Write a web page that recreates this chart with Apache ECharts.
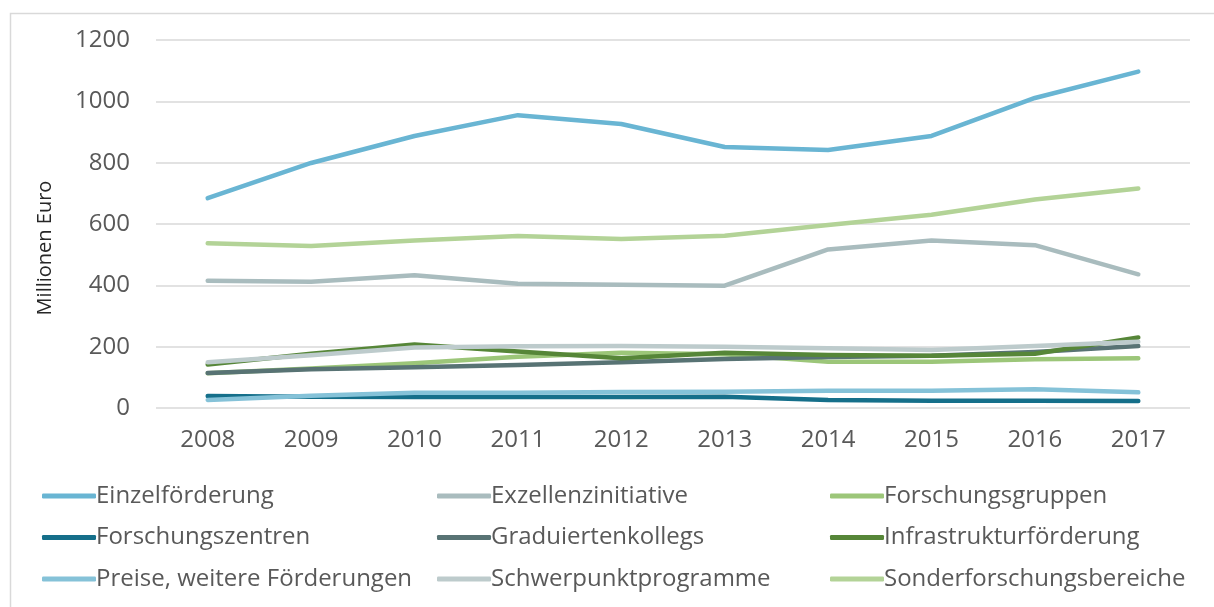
<!DOCTYPE html>
<html>
<head>
<meta charset="utf-8">
<script src="https://cdn.jsdelivr.net/npm/echarts@6/dist/echarts.min.js"></script>
<style>
  html, body { margin: 0; padding: 0; background: #fff; }
  #chart { width: 1214px; height: 607px; }
</style>
</head>
<body>
<div id="chart"></div>
<script>
// Jahre auf der x-Achse
const years = ["2008", "2009", "2010", "2011", "2012", "2013", "2014", "2015", "2016", "2017"];

// Werte in Millionen Euro
const einzelfoerderung      = [684, 799, 887, 955, 926, 851, 841, 887, 1011, 1097];
const exzellenzinitiative   = [415, 412, 433, 405, 402, 399, 517, 546, 531, 436];
const forschungsgruppen     = [113, 129, 146, 167, 180, 175, 151, 151, 159, 162];
const forschungszentren     = [39, 37, 36, 36, 36, 37, 26, 24, 24, 23];
const graduiertenkollegs    = [114, 126, 133, 140, 149, 160, 166, 170, 183, 202];
const infrastruktur         = [142, 177, 207, 184, 162, 180, 173, 170, 177, 230];
const preise                = [26, 40, 50, 50, 52, 53, 56, 56, 61, 51];
const schwerpunkt           = [149, 172, 197, 201, 202, 200, 195, 189, 202, 216];
const sonderforschung       = [537, 528, 546, 561, 551, 562, 597, 630, 680, 716];

const seriesDefs = [
  { name: "Einzelförderung", data: einzelfoerderung, color: "#69b5d3" },
  { name: "Exzellenzinitiative", data: exzellenzinitiative, color: "#a9bcbe" },
  { name: "Forschungsgruppen", data: forschungsgruppen, color: "#9cc679" },
  { name: "Forschungszentren", data: forschungszentren, color: "#156f8a" },
  { name: "Graduiertenkollegs", data: graduiertenkollegs, color: "#587374" },
  { name: "Infrastrukturförderung", data: infrastruktur, color: "#568638" },
  { name: "Preise, weitere Förderungen", data: preise, color: "#85c2d8" },
  { name: "Schwerpunktprogramme", data: schwerpunkt, color: "#bdcbcc" },
  { name: "Sonderforschungsbereiche", data: sonderforschung, color: "#b3d397" }
];

const FONT = "'Open Sans', sans-serif";
const GRAY = "#595959";

function legendCol(left, names) {
  return {
    orient: "vertical",
    left: left,
    top: 479,
    itemWidth: 54,
    itemHeight: 5,
    itemGap: 17.5,
    icon: "roundRect",
    data: names,
    selectedMode: false,
    textStyle: { fontFamily: FONT, fontSize: 24, color: GRAY, lineHeight: 24, padding: [0, 0, 0, -5] }
  };
}

const chart = echarts.init(document.getElementById("chart"));

chart.setOption({
  animation: false,
  grid: { left: 156, right: 24, top: 40, bottom: 199 },
  xAxis: {
    type: "category",
    data: years,
    boundaryGap: true,
    axisLine: { show: false },
    axisTick: { show: false },
    axisLabel: { fontFamily: FONT, fontSize: 24, color: GRAY, margin: 20 }
  },
  yAxis: {
    type: "value",
    min: 0,
    max: 1200,
    interval: 200,
    axisLine: { show: false },
    axisTick: { show: false },
    axisLabel: { fontFamily: FONT, fontSize: 24, color: GRAY, margin: 26, formatter: v => String(v) },
    splitLine: { lineStyle: { color: "#d9d9d9", width: 1.5 } }
  },
  legend: [
    legendCol(37, ["Einzelförderung", "Forschungszentren", "Preise, weitere Förderungen"]),
    legendCol(432, ["Exzellenzinitiative", "Graduiertenkollegs", "Schwerpunktprogramme"]),
    legendCol(825, ["Forschungsgruppen", "Infrastrukturförderung", "Sonderforschungsbereiche"])
  ],
  series: seriesDefs.map(s => ({
    type: "line",
    name: s.name,
    data: s.data,
    showSymbol: false,
    color: s.color,
    lineStyle: { width: 4.5, color: s.color, cap: "round", join: "round" }
  })),
  graphic: [
    {
      type: "rect",
      left: 8,
      top: 11,
      shape: { width: 1230, height: 620 },
      style: { fill: "none", stroke: "#d9d9d9", lineWidth: 1.5 },
      silent: true
    },
    {
      type: "text",
      x: 45,
      y: 248,
      rotation: Math.PI / 2,
      style: {
        text: "Millionen Euro",
        fontFamily: FONT,
        fontSize: 20,
        fill: "#262626",
        align: "center",
        verticalAlign: "middle"
      }
    }
  ]
});
</script>
</body>
</html>
